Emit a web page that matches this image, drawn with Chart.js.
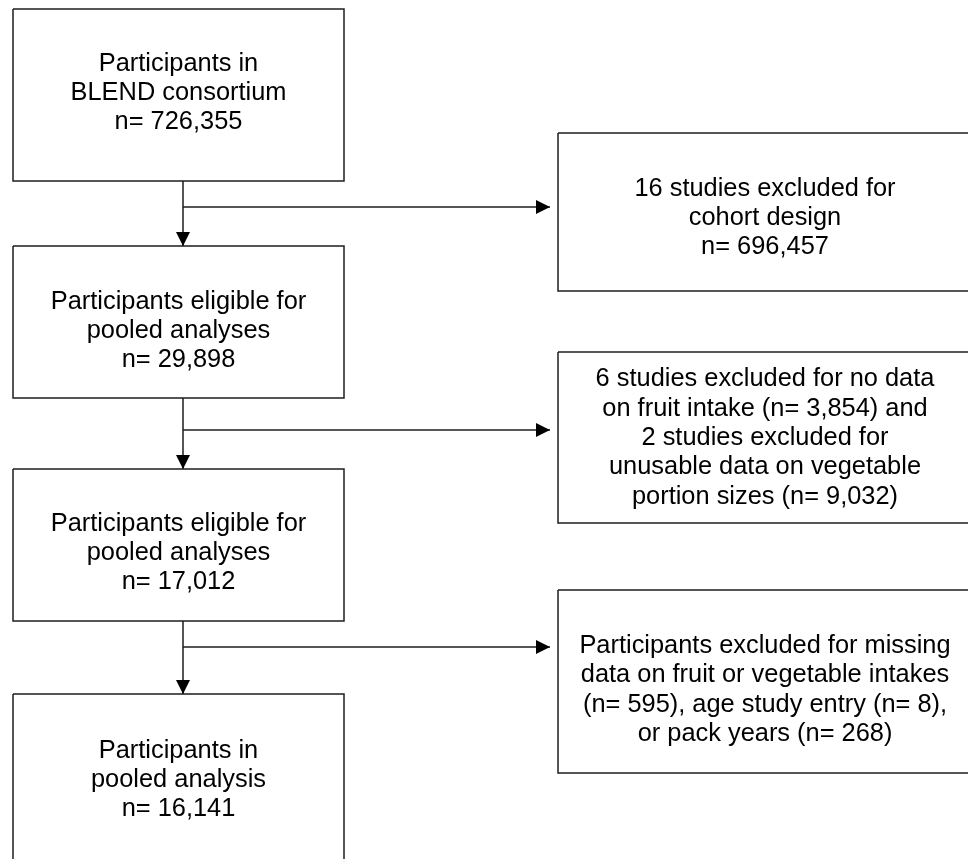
<!DOCTYPE html>
<html>
<head>
<meta charset="utf-8">
<script src="https://cdn.jsdelivr.net/npm/chart.js@4"></script>
<style>
  body { margin: 0; background: #fff; }
  canvas { display: block; }
</style>
</head>
<body>
<canvas id="flow" width="968" height="859"></canvas>
<script>
// flow stages down the left side
const stageLabels = [
  ['Participants in', 'BLEND consortium'],
  ['Participants eligible for', 'pooled analyses'],
  ['Participants eligible for', 'pooled analyses'],
  ['Participants in', 'pooled analysis']
];
const stageCounts = [726355, 29898, 17012, 16141];

// exclusion boxes on the right
const exclusionLabels = [
  ['16 studies excluded for', 'cohort design', 'n= 696,457'],
  ['6 studies excluded for no data', 'on fruit intake (n= 3,854) and', '2 studies excluded for', 'unusable data on vegetable', 'portion sizes (n= 9,032)'],
  ['Participants excluded for missing', 'data on fruit or vegetable intakes', '(n= 595), age study entry (n= 8),', 'or pack years (n= 268)']
];

// layout in chart units (left, top, right, bottom)
const stageBoxes = [[13, 9, 344, 181], [13, 246, 344, 398], [13, 469, 344, 621], [13, 694, 344, 864]];
const stageTextY = [93, 331, 553, 780];
const exclusionBoxes = [[558, 133, 972, 291], [558, 352, 972, 523], [558, 590, 972, 773]];
const exclusionTextY = [218, 438, 690];
const trunkX = 183;
const branchY = [207, 430, 647];
const branchEndX = 550;

const lineColor = '#1e1e1e';

function boxPath(b) {
  return [
    { x: b[0], y: b[1] }, { x: b[2], y: b[1] },
    { x: b[2], y: b[3] }, { x: b[0], y: b[3] }, { x: b[0], y: b[1] }
  ];
}

const datasets = [];
stageBoxes.concat(exclusionBoxes).forEach(b => {
  datasets.push({ data: boxPath(b) });
});
// vertical trunk pieces between stage boxes
for (let i = 0; i < stageBoxes.length - 1; i++) {
  datasets.push({ data: [{ x: trunkX, y: stageBoxes[i][3] }, { x: trunkX, y: stageBoxes[i + 1][1] }] });
}
// branches out to exclusion boxes
branchY.forEach(y => {
  datasets.push({ data: [{ x: trunkX, y: y }, { x: branchEndX, y: y }] });
});
datasets.forEach(d => {
  d.showLine = true;
  d.borderColor = lineColor;
  d.borderWidth = 1.5;
  d.pointRadius = 0;
  d.tension = 0;
  d.fill = false;
});

const flowLabels = {
  id: 'flowLabels',
  afterDatasetsDraw(chart) {
    const { ctx, scales: { x, y } } = chart;
    ctx.save();
    ctx.fillStyle = '#000';

    // arrow heads
    const head = 14;
    stageBoxes.slice(1).forEach(b => {
      const tx = x.getPixelForValue(trunkX), ty = y.getPixelForValue(b[1]);
      ctx.beginPath();
      ctx.moveTo(tx, ty);
      ctx.lineTo(tx - head / 2, ty - head);
      ctx.lineTo(tx + head / 2, ty - head);
      ctx.closePath();
      ctx.fill();
    });
    branchY.forEach(v => {
      const tx = x.getPixelForValue(branchEndX), ty = y.getPixelForValue(v);
      ctx.beginPath();
      ctx.moveTo(tx, ty);
      ctx.lineTo(tx - head, ty - head / 2);
      ctx.lineTo(tx - head, ty + head / 2);
      ctx.closePath();
      ctx.fill();
    });

    // box texts
    ctx.font = '25.4px "Liberation Sans", Arial, sans-serif';
    ctx.textAlign = 'center';
    ctx.textBaseline = 'middle';
    const lh = 29.3;
    const drawLines = (lines, b, cy) => {
      const cx = x.getPixelForValue((b[0] + b[2]) / 2);
      const top = y.getPixelForValue(cy) - (lines.length - 1) * lh / 2;
      lines.forEach((t, i) => ctx.fillText(t, cx, top + i * lh));
    };
    stageLabels.forEach((lines, i) => {
      drawLines(lines.concat('n= ' + stageCounts[i].toLocaleString('en-US')), stageBoxes[i], stageTextY[i]);
    });
    exclusionLabels.forEach((lines, i) => {
      drawLines(lines, exclusionBoxes[i], exclusionTextY[i]);
    });
    ctx.restore();
  }
};

new Chart(document.getElementById('flow'), {
  type: 'scatter',
  data: { datasets: datasets },
  options: {
    responsive: false,
    animation: false,
    layout: { padding: 0 },
    plugins: {
      legend: { display: false },
      tooltip: { enabled: false }
    },
    scales: {
      x: { type: 'linear', min: 0, max: 968, display: false },
      y: { type: 'linear', min: 0, max: 859, reverse: true, display: false }
    }
  },
  plugins: [flowLabels]
});
</script>
</body>
</html>
